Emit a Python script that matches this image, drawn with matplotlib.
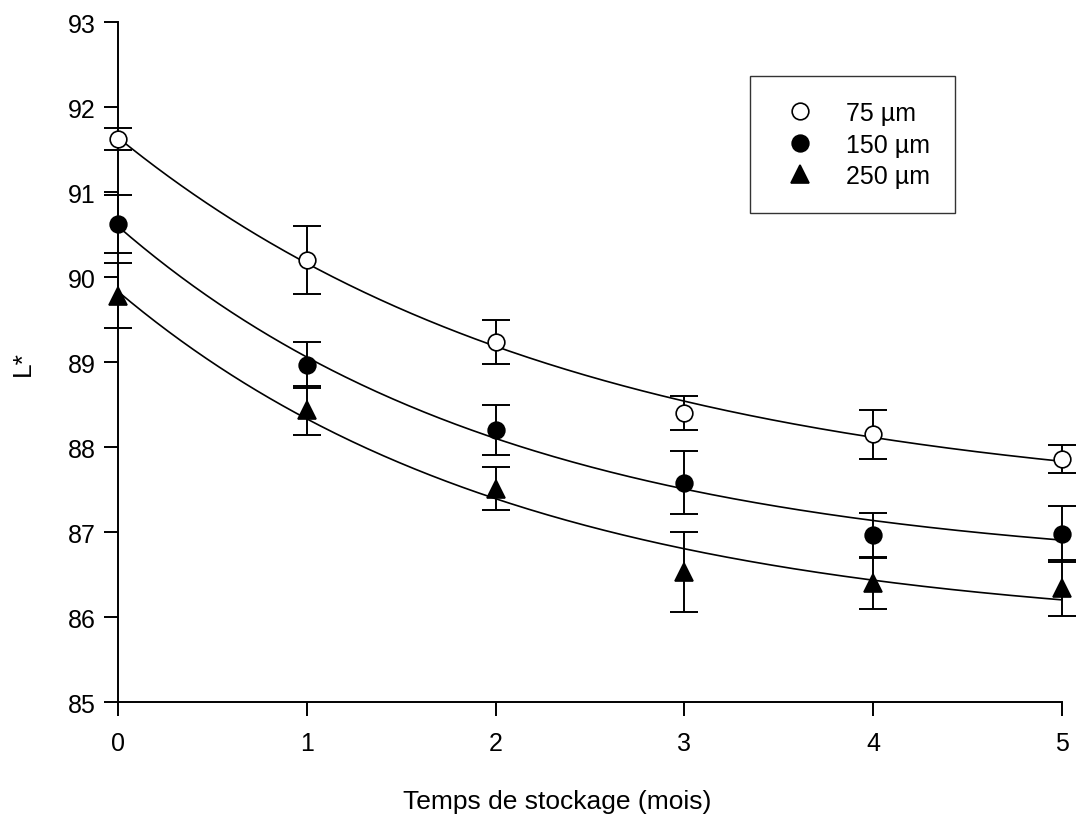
import numpy as np
import matplotlib
matplotlib.use('Agg')
import matplotlib.pyplot as plt

plt.rcParams['font.family'] = ['Liberation Sans', 'DejaVu Sans']

# storage time (months)
months = [0, 1, 2, 3, 4, 5]

# L* means and error bars
L_75 = [91.62, 90.20, 89.24, 88.40, 88.15, 87.86]
err_75 = [0.13, 0.40, 0.26, 0.20, 0.29, 0.16]
L_150 = [90.62, 88.96, 88.20, 87.58, 86.96, 86.98]
err_150 = [0.34, 0.27, 0.29, 0.37, 0.26, 0.33]
L_250 = [89.78, 88.43, 87.51, 86.53, 86.40, 86.34]
err_250 = [0.38, 0.29, 0.25, 0.47, 0.31, 0.33]

labels = ['75 µm', '150 µm', '250 µm']
yticks = [85, 86, 87, 88, 89, 90, 91, 92, 93]


def fit_exp_decay(x, y):
    # y = y0 + a*exp(-b*x), least squares with a grid over b
    x = np.asarray(x, float)
    y = np.asarray(y, float)
    best = None
    for b in np.linspace(0.01, 3.0, 3000):
        A = np.column_stack([np.ones_like(x), np.exp(-b * x)])
        coef = np.linalg.lstsq(A, y, rcond=None)[0]
        r = np.sum((A @ coef - y) ** 2)
        if best is None or r < best[0]:
            best = (r, coef[0], coef[1], b)
    return best[1:]


fig = plt.figure(figsize=(10.77, 8.2), dpi=100)
ax = fig.add_axes([0.10956, 0.14268, 0.8765, 0.82927])

series = [(L_75, err_75, 'o', 'white', 12),
          (L_150, err_150, 'o', 'black', 12),
          (L_250, err_250, '^', 'black', 13)]

xs = np.linspace(0, 5, 300)
handles = []
for (vals, errs, mk, fc, ms), lab in zip(series, labels):
    y0, a, b = fit_exp_decay(months, vals)
    ax.plot(xs, y0 + a * np.exp(-b * xs), color='black', lw=1.2, zorder=2, clip_on=False)
    ax.errorbar(months, vals, yerr=errs, fmt='none', ecolor='black', elinewidth=1.4,
                capsize=10, capthick=1.4, zorder=3, clip_on=False)
    h, = ax.plot(months, vals, linestyle='none', marker=mk, markersize=ms,
                 markerfacecolor=fc, markeredgecolor='black', markeredgewidth=1.2,
                 zorder=4, clip_on=False, label=lab)
    handles.append(h)

ax.set_xlim(0, 5)
ax.set_ylim(85, 93)
ax.set_yticks(yticks)
ax.set_xticks(months)
ax.spines['top'].set_visible(False)
ax.spines['right'].set_visible(False)
for s in ['left', 'bottom']:
    ax.spines[s].set_linewidth(1.4)
ax.tick_params(direction='out', length=10, width=1.4, labelsize=18)
ax.tick_params(axis='y', pad=6)
ax.tick_params(axis='x', pad=11)

ax.set_xlabel('Temps de stockage (mois)', fontsize=19)
ax.xaxis.set_label_coords(0.465, -0.128)
ax.set_ylabel('L*', fontsize=19)
ax.yaxis.set_label_coords(-0.088, 0.5)

leg = ax.legend(handles=handles, loc='upper left', bbox_to_anchor=(750 / 1077, 1 - 77 / 820),
                bbox_transform=fig.transFigure, frameon=True, fancybox=False,
                edgecolor='black', fontsize=18, borderpad=1.0, labelspacing=0.3,
                handletextpad=0.84, borderaxespad=0, handlelength=2.0)
leg.get_frame().set_linewidth(1.0)

fig.savefig('out.png', dpi=100)
